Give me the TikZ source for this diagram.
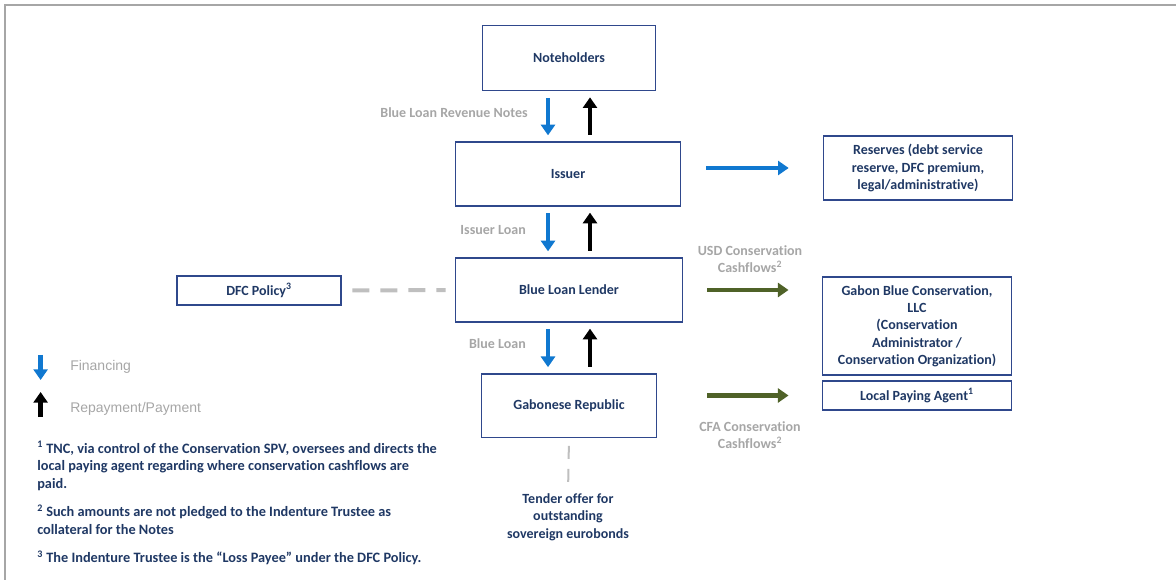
\documentclass[tikz,border=0pt]{standalone}
\usepackage{fontspec}
\setmainfont{Carlito}[Ligatures=NoCommon]
\newfontfamily\legendfont{Liberation Sans}
\usetikzlibrary{arrows.meta}
\definecolor{navy}{RGB}{31,56,100}
\definecolor{boxline}{RGB}{47,72,140}
\definecolor{finblue}{RGB}{16,120,208}
\definecolor{cashgreen}{RGB}{79,98,40}
\definecolor{lblgray}{RGB}{166,166,166}
\definecolor{dashgray}{RGB}{191,191,191}

\begin{document}
\begin{tikzpicture}[x=0.75pt,y=-0.75pt,
    font=\fontsize{10.5}{13}\selectfont\bfseries,
    box/.style={draw=boxline,line width=1pt,text=navy,align=center,inner sep=2pt},
    lbl/.style={text=lblgray,align=center,inner sep=0pt},
    legend/.style={text=lblgray,inner sep=0pt,font=\legendfont\fontsize{10.5}{13}\selectfont},
    note/.style={text=navy,align=left,inner sep=0pt,font=\fontsize{10.75}{13.2}\selectfont\bfseries},
    fin/.style={-{Triangle[width=10.5pt,length=8pt]},line width=3.4pt,finblue},
    rep/.style={fin,black},
    cash/.style={fin,cashgreen},
    vgap/.style={shorten <=5pt,shorten >=4.5pt},
    policy/.style={dashgray,line width=3pt,dash pattern=on 12.75pt off 8.25pt},
    tender/.style={dashgray,line width=1.5pt,dash pattern=on 9.75pt off 7.5pt}]
  \useasboundingbox (0,0) rectangle (1176,580);
  \draw[lblgray,line width=2pt] (5,580) -- (5,5) -- (1176,5);

  % main chain
  \node[box,minimum width=130pt,minimum height=49pt] (note) at (569,58) {Noteholders};
  \node[box,minimum width=169pt,minimum height=48pt] (issuer) at (568,174) {Issuer};
  \node[box,minimum width=170pt,minimum height=48pt] (bll) at (569,290) {Blue Loan Lender};
  \node[box,minimum width=131pt,minimum height=47.5pt] (gr) at (569,405.5) {Gabonese Republic};
  \node[box,minimum width=123pt,minimum height=21.75pt] (dfc) at (259,290.5) {DFC Policy\textsuperscript{3}};

  % right side
  \node[box,minimum width=142pt,minimum height=48pt] (res) at (918,168)
    {Reserves (debt service\\reserve, DFC premium,\\legal/administrative)};
  \node[box,minimum width=141.7pt,minimum height=73.5pt] (gabon) at (917,326)
    {Gabon Blue Conservation,\\LLC\\(Conservation\\Administrator /\\Conservation Organization)};
  \node[box,minimum width=141.7pt,minimum height=21.75pt] (lpa) at (917,395.5) {Local Paying Agent\textsuperscript{1}};

  \node[text=navy,align=center,inner sep=0pt] (tender) at (568,517)
    {Tender offer for\\outstanding\\sovereign eurobonds};

  % flow labels
  \node[lbl,anchor=east] (blrn) at (528,113) {Blue Loan Revenue Notes};
  \node[lbl,anchor=east] (il) at (526,230) {Issuer Loan};
  \node[lbl,anchor=east] (bl) at (526,344) {Blue Loan};
  \node[lbl] (usd) at (750,259) {USD Conservation\\Cashflows\textsuperscript{2}};
  \node[lbl] (cfa) at (750,435) {CFA Conservation\\Cashflows\textsuperscript{2}};

  \coordinate (fx) at (548,0);
  \coordinate (rx) at (590,0);
  \path
    (note.south -| fx) edge[fin,vgap] (issuer.north -| fx)
    (issuer.north -| rx) edge[rep,vgap] (note.south -| rx)
    (issuer.south -| fx) edge[fin,vgap] (bll.north -| fx)
    (bll.north -| rx) edge[rep,vgap] (issuer.south -| rx)
    (bll.south -| fx) edge[fin,vgap] (gr.north -| fx)
    (gr.north -| rx) edge[rep,vgap] (bll.south -| rx)
    (issuer.east |- res) edge[fin,shorten <=18.5pt,shorten >=25.5pt] (res.west)
    (bll.east) edge[cash,shorten <=18pt,shorten >=25pt] (bll.east -| gabon.west)
    (gr.east |- lpa) edge[cash,shorten <=37.5pt,shorten >=25pt] (lpa.west)
    (dfc.east) edge[policy,shorten <=8pt,shorten >=7pt] (bll.west)
    (gr.south) edge[tender,shorten <=6pt,shorten >=6pt] (tender.north);

  % legend
  \coordinate (lf1) at (40.6,355);
  \coordinate (lf2) at (40.6,380);
  \coordinate (lr1) at (40.6,417);
  \coordinate (lr2) at (40.6,392);
  \draw[fin] (lf1) -- (lf2);
  \draw[rep] (lr1) -- (lr2);
  \node[legend,anchor=west] (finl) at (70,367) {Financing};
  \node[legend,anchor=west] (repl) at (70,409) {Repayment/Payment};

  % footnotes
  \node[note,anchor=north west] (fn1) at (37,441)
    {\textsuperscript{1} TNC, via control of the Conservation SPV, oversees and directs the\\local paying agent regarding where conservation cashflows are\\paid.};
  \node[note,anchor=north west] (fn2) at (37,504.5)
    {\textsuperscript{2} Such amounts are not pledged to the Indenture Trustee as\\collateral for the Notes};
  \node[note,anchor=north west] (fn3) at (37,550.5)
    {\textsuperscript{3} The Indenture Trustee is the “Loss Payee” under the DFC Policy.};
\end{tikzpicture}
\end{document}
